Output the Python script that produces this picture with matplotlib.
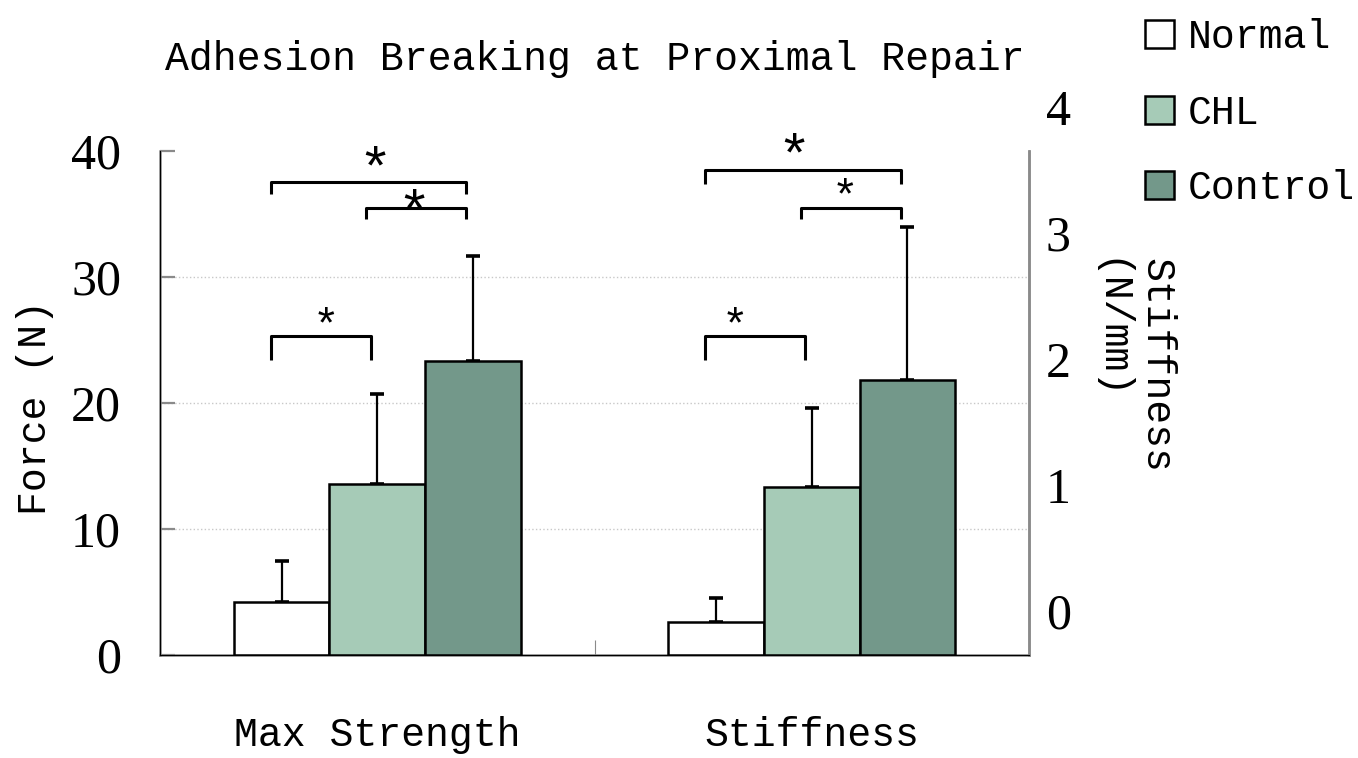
import numpy as np
import matplotlib
matplotlib.use("Agg")
import matplotlib.pyplot as plt
from matplotlib.transforms import ScaledTranslation
from matplotlib.patches import Patch

# data (stiffness drawn on the force scale, x10)
categories = ["Max Strength", "Stiffness"]
groups = ["Normal", "CHL", "Control"]
means = {
    "Normal": [4.2, 2.6],
    "CHL": [13.6, 13.3],
    "Control": [23.3, 21.8],
}
errs = {
    "Normal": [3.3, 1.9],
    "CHL": [7.1, 6.3],
    "Control": [8.4, 12.2],
}
colors = {"Normal": "white", "CHL": "#a6cbb7", "Control": "#73988a"}

# significance brackets:
# (category, bar a, bar b, height, leg drop, star size, star lift px, star shift px)
brackets = [
    (0, 0, 2, 37.5, 0.9, 40, 11, 6),
    (0, 1, 2, 35.5, 0.9, 40, -7, -2),
    (0, 0, 1, 25.3, 1.9, 32, 9, 5),
    (1, 0, 2, 38.5, 1.1, 40, 11, -9),
    (1, 1, 2, 35.5, 0.9, 32, 10, -6),
    (1, 0, 1, 25.3, 1.9, 32, 9, -20),
]

mono = "Liberation Mono"
fsize = 28.7
grey = "#8a8a8a"

fig = plt.figure(figsize=(13.58, 7.58), dpi=100)
ax = fig.add_axes([160 / 1358, 1 - 655 / 758, 869 / 1358, 504 / 758])

x = np.arange(len(categories))
width = 0.22
offsets = [-width, 0, width]

for g, off in zip(groups, offsets):
    ax.bar(x + off, means[g], width, color=colors[g], edgecolor="black",
           linewidth=1.8, zorder=3, label=g)
    ax.errorbar(x + off, means[g], yerr=[np.zeros(len(x)), errs[g]], fmt="none",
                ecolor="black", elinewidth=1.6, capsize=5, capthick=2.6, zorder=2)

px = 72 / fig.dpi
for cat, a, b, h, drop, fs, lift, shift_x in brackets:
    xa = x[cat] + offsets[a] - 0.025
    xb = x[cat] + offsets[b] - 0.015
    ax.plot([xa, xa, xb, xb], [h - drop, h, h, h - drop], color="black",
            lw=2.2, solid_capstyle="butt", zorder=4)
    ax.annotate("*", xy=((xa + xb) / 2, h), xytext=(shift_x * px, lift * px),
                textcoords="offset points", ha="center", va="center",
                fontsize=fs, family=mono, zorder=5,
                annotation_clip=False)

ax.set_xlim(-0.5, 1.5)
ax.set_ylim(0, 40)
ax.set_yticks([0, 10, 20, 30, 40])
ax.set_xticks(x)
ax.set_xticklabels(categories, family=mono, fontsize=fsize)
ax.set_xticks([0.5], minor=True)
ax.tick_params(axis="x", which="major", length=0, pad=44)
ax.tick_params(axis="x", which="minor", length=11, direction="in", color=grey, width=0.8)
ax.tick_params(axis="y", direction="in", length=11, width=1.6, color=grey, pad=28)
for lab in ax.get_yticklabels():
    lab.set_family("Liberation Serif")
    lab.set_fontsize(36)

ax.yaxis.grid(True, linestyle=":", color="#c8c8c8", lw=1)
gl = ax.get_ygridlines()
gl[0].set_visible(False)
gl[-1].set_visible(False)
ax.set_axisbelow(True)

ax.spines["top"].set_visible(False)
for s in ["left", "bottom", "right"]:
    ax.spines[s].set_color(grey)
    ax.spines[s].set_linewidth(1.8)

ax.set_ylabel("Force (N)", family=mono, fontsize=fsize)
ax.yaxis.set_label_coords(-0.122, 0.49)

ax.set_title("Adhesion Breaking at Proximal Repair", family=mono, fontsize=fsize, pad=58)

# secondary axis for stiffness; its labels sit a little high as in the source
ax2 = ax.twinx()
ax2.set_ylim(0, 4)
ax2.set_yticks([0, 1, 2, 3, 4])
ax2.spines["top"].set_visible(False)
ax2.spines["right"].set_color(grey)
ax2.spines["right"].set_linewidth(1.8)
ax2.tick_params(axis="y", which="major", length=0, pad=12)
ax2.set_yticks([4], minor=True)
ax2.tick_params(axis="y", which="minor", length=11, direction="in", width=1.6, color=grey)
shift = ScaledTranslation(0, 0.44, fig.dpi_scale_trans)
for lab in ax2.get_yticklabels():
    lab.set_family("Liberation Serif")
    lab.set_fontsize(36)
    lab.set_transform(lab.get_transform() + shift)
ax2.set_ylabel("Stiffness\n(N/mm)", family=mono, fontsize=fsize, rotation=270,
               multialignment="left", va="center", linespacing=1.3)
ax2.yaxis.set_label_coords(1.12, 0.575)

handles = [Patch(facecolor=colors[g], edgecolor="black", linewidth=1.8) for g in groups]
fig.legend(handles, groups, loc="upper left", bbox_to_anchor=(1129 / 1358, 0.997),
           frameon=False, prop={"family": mono, "size": fsize},
           handlelength=0.72, handleheight=0.72, handletextpad=0.35, labelspacing=0.94,
           borderaxespad=0.0)

fig.savefig("out.png", dpi=100)
